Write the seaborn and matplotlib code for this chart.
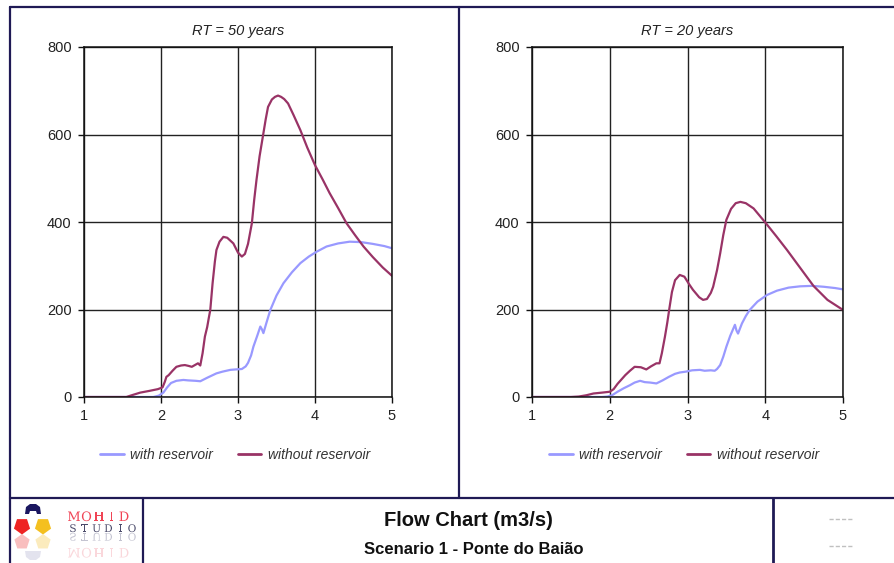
import numpy as np
import pandas as pd
import seaborn as sns
import matplotlib
matplotlib.use("Agg")
import matplotlib.pyplot as plt
from matplotlib.textpath import TextPath
from matplotlib.patches import PathPatch, Polygon
from matplotlib.font_manager import FontProperties
from matplotlib.transforms import Affine2D

# ---------------- data ----------------
series_names = ["with reservoir", "without reservoir"]
panel_titles = ["RT = 50 years", "RT = 20 years"]
x_ticks = [1, 2, 3, 4, 5]
y_ticks = [0, 200, 400, 600, 800]
main_title = "Flow Chart (m3/s)"
sub_title = "Scenario 1 - Ponte do Baião"

# RT = 50 years
rt50_with_x = [1.0, 1.5, 1.9, 1.97, 2.03, 2.08, 2.13, 2.2, 2.29, 2.35, 2.45, 2.51, 2.6, 2.72,
               2.8, 2.9, 2.97, 3.05, 3.1, 3.13, 3.17, 3.2, 3.25, 3.29, 3.31, 3.33, 3.37, 3.42,
               3.5, 3.59, 3.7, 3.81, 3.92, 4.02, 4.15, 4.3, 4.45, 4.6, 4.75, 4.9, 5.0]
rt50_with_y = [0, 0, 0, 3, 10, 22, 32, 37, 39, 38, 37, 36, 44, 54,
               58, 62, 63, 64, 70, 78, 95, 115, 140, 161, 155, 146, 170, 199,
               232, 260, 285, 306, 321, 332, 344, 351, 355, 354, 350, 345, 340]
rt50_without_x = [1.0, 1.5, 1.55, 1.62, 1.73, 1.85, 1.96, 2.02, 2.05, 2.07, 2.1, 2.15, 2.2,
                  2.26, 2.31, 2.36, 2.4, 2.45, 2.48, 2.51, 2.54, 2.57, 2.6, 2.62, 2.64, 2.67,
                  2.7, 2.72, 2.76, 2.81, 2.86, 2.94, 3.0, 3.05, 3.09, 3.13, 3.18, 3.21, 3.24,
                  3.28, 3.33, 3.36, 3.39, 3.44, 3.48, 3.52, 3.56, 3.6, 3.65, 3.72, 3.81, 3.9,
                  4.0, 4.1, 4.19, 4.3, 4.41, 4.52, 4.63, 4.75, 4.88, 5.0]
rt50_without_y = [0, 0, 0, 4, 10, 14, 18, 22, 35, 46, 50, 60, 69,
                  72, 73, 71, 69, 74, 77, 72, 100, 138, 160, 180, 199, 260,
                  310, 336, 355, 366, 364, 351, 330, 321, 327, 350, 397, 450, 496,
                  550, 603, 635, 663, 680, 686, 689, 686, 681, 671, 645, 610, 570,
                  530, 497, 466, 432, 397, 370, 344, 320, 296, 277]

# RT = 20 years
rt20_with_x = [1.0, 1.5, 1.9, 1.97, 2.03, 2.1, 2.18, 2.26, 2.32, 2.39, 2.45, 2.52, 2.6, 2.68,
               2.76, 2.84, 2.9, 2.98, 3.06, 3.16, 3.22, 3.3, 3.35, 3.38, 3.42, 3.46, 3.5, 3.55,
               3.61, 3.63, 3.65, 3.7, 3.75, 3.8, 3.9, 4.02, 4.15, 4.3, 4.45, 4.6, 4.75, 4.9, 5.0]
rt20_with_y = [0, 0, 0, 1, 4, 12, 20, 27, 33, 37, 34, 33, 31, 38,
               46, 53, 56, 58, 61, 62, 60, 61, 60, 64, 73, 92, 115, 140,
               165, 152, 145, 168, 185, 199, 218, 233, 243, 250, 253, 254, 252, 249, 246]
rt20_without_x = [1.0, 1.5, 1.6, 1.7, 1.79, 1.9, 2.0, 2.05, 2.1, 2.15, 2.2, 2.26, 2.32, 2.4,
                  2.47, 2.53, 2.6, 2.64, 2.67, 2.71, 2.74, 2.77, 2.8, 2.84, 2.9, 2.96, 3.02,
                  3.07, 3.15, 3.2, 3.25, 3.3, 3.33, 3.38, 3.42, 3.46, 3.5, 3.56, 3.62, 3.68,
                  3.75, 3.85, 4.0, 4.14, 4.28, 4.45, 4.62, 4.8, 5.0]
rt20_without_y = [0, 0, 1, 4, 8, 10, 12, 18, 30, 40, 50, 60, 69, 68,
                  63, 70, 77, 77, 100, 138, 170, 206, 240, 267, 279, 275, 258,
                  245, 228, 222, 224, 238, 252, 290, 328, 370, 405, 430, 443, 446,
                  443, 431, 399, 368, 336, 295, 254, 222, 199]

palette = {"with reservoir": "#9999FF", "without reservoir": "#993366"}


def make_df(xw, yw, xo, yo):
    return pd.concat([
        pd.DataFrame({"time": xw, "flow": yw, "series": series_names[0]}),
        pd.DataFrame({"time": xo, "flow": yo, "series": series_names[1]}),
    ], ignore_index=True)


frames = [make_df(rt50_with_x, rt50_with_y, rt50_without_x, rt50_without_y),
          make_df(rt20_with_x, rt20_with_y, rt20_without_x, rt20_without_y)]

# ---------------- style ----------------
sns.set_theme(style="white")
plt.rcParams["font.family"] = ["Liberation Sans", "DejaVu Sans"]

W, H = 894, 563
fig = plt.figure(figsize=(W / 100, H / 100), dpi=100, facecolor="white")


def fx(px):
    return px / W


def fy(py):
    return 1 - py / H


axes_px = [(84, 392), (532, 843)]
legend_cx = [235, 684]
for i, (x0, x1) in enumerate(axes_px):
    ax = fig.add_axes([fx(x0), fy(397), fx(x1) - fx(x0), fy(47) - fy(397)])
    sns.lineplot(data=frames[i], x="time", y="flow", hue="series",
                 hue_order=series_names, palette=palette, estimator=None,
                 sort=True, linewidth=1.6, ax=ax)
    ax.set_xlim(1, 5)
    ax.set_ylim(0, 800)
    ax.set_xticks(x_ticks)
    ax.set_yticks(y_ticks)
    ax.set_xlabel("")
    ax.set_ylabel("")
    ax.grid(True, color="#222222", linewidth=1.0)
    ax.set_axisbelow(True)
    for s in ax.spines.values():
        s.set_visible(True)
        s.set_color("#111111")
        s.set_linewidth(1.1)
    ax.tick_params(axis="both", direction="out", length=4, width=1, color="#111111",
                   labelsize=10.5, labelcolor="#222222", pad=5,
                   bottom=True, left=True)
    ax.tick_params(axis="x", pad=5)
    ax.set_facecolor("white")
    ax.set_title(panel_titles[i], fontsize=10.5, style="italic", color="#222222", pad=9)
    sns.move_legend(ax, loc="center", bbox_to_anchor=(fx(legend_cx[i]), fy(455)),
                    bbox_transform=fig.transFigure, ncol=2, frameon=False, title=None,
                    handlelength=1.7, handletextpad=0.45, columnspacing=1.8,
                    fontsize=10)
    for t in ax.get_legend().get_texts():
        t.set_style("italic")
        t.set_color("#333333")
    for ln in ax.get_legend().get_lines():
        ln.set_linewidth(2.0)

# ---------------- overlay (frame, footer, logo) ----------------
ov = fig.add_axes([0, 0, 1, 1], zorder=5)
ov.set_xlim(0, W)
ov.set_ylim(H, 0)
ov.axis("off")
ov.patch.set_alpha(0)

navy = "#1f1a55"
lw = 1.6
ov.plot([10, 10], [7, H], color=navy, lw=lw)
ov.plot([10, W], [7, 7], color=navy, lw=lw)
ov.plot([459, 459], [7, 498], color=navy, lw=lw)
ov.plot([10, W], [498, 498], color=navy, lw=lw)
ov.plot([143, 143], [498, H], color=navy, lw=lw)
ov.plot([773, 773], [498, H], color=navy, lw=lw + 0.4)

ov.text(468, 520, main_title, ha="center", va="center", fontsize=14.5,
        fontweight="bold", color="#111111")
ov.text(474, 549, sub_title, ha="center", va="center", fontsize=12,
        fontweight="bold", color="#111111")

for yy in (519, 546):
    ov.plot([829, 853], [yy, yy], color="#c0c0c0", lw=1.0, linestyle=(0, (3, 1.5)))


# logo shapes
def pent(cx, cy, r):
    ang = np.deg2rad(np.array([90, 162, 234, 306, 18]) + 180)
    return np.column_stack([cx + r * np.cos(ang), cy - r * np.sin(ang)])


ov.add_patch(Polygon([(25, 514), (26, 507), (30, 504), (36, 504), (40, 507), (41, 514),
                      (37, 514), (36, 511), (30, 511), (29, 514)], closed=True,
                     facecolor="#1b1760", edgecolor="none"))
ov.add_patch(Polygon(pent(22, 526, 8.5), closed=True, facecolor="#ee2222", edgecolor="none"))
ov.add_patch(Polygon(pent(43, 526, 8.5), closed=True, facecolor="#f4c020", edgecolor="none"))
ov.add_patch(Polygon(pent(22, 542, -8.0), closed=True, facecolor="#f58a8a", edgecolor="none", alpha=0.55))
ov.add_patch(Polygon(pent(43, 542, -8.0), closed=True, facecolor="#f8dc88", edgecolor="none", alpha=0.55))
ov.add_patch(Polygon([(25, 551), (26, 557), (30, 560), (36, 560), (40, 557), (41, 551)],
                     closed=True, facecolor="#d8d8e8", edgecolor="none", alpha=0.7))

serif = FontProperties(family="DejaVu Serif")


def word(text, x0, step, base, size, color, alpha, mirror=False):
    for k, ch in enumerate(text):
        tp = TextPath((0, 0), ch, size=size, prop=serif)
        ext = tp.get_extents()
        cx = (ext.x0 + ext.x1) / 2
        sy = 1 if mirror else -1
        tr = (Affine2D().translate(-cx, 0).scale(1, sy)
              .translate(x0 + k * step, base) + ov.transData)
        ov.add_patch(PathPatch(tp, transform=tr, facecolor=color, edgecolor="none", alpha=alpha))


word("MOHID", 74, 12.5, 521, 13, "#f04455", 1.0)
word("STUDIO", 73, 11.8, 532, 10.5, "#4a4a6a", 1.0)
word("STUDIO", 73, 11.8, 533, 10.5, "#8a8aa5", 0.5, mirror=True)
word("MOHID", 74, 12.5, 548, 13, "#f6b0b8", 0.5, mirror=True)

fig.savefig("out.png", dpi=100, facecolor="white")
